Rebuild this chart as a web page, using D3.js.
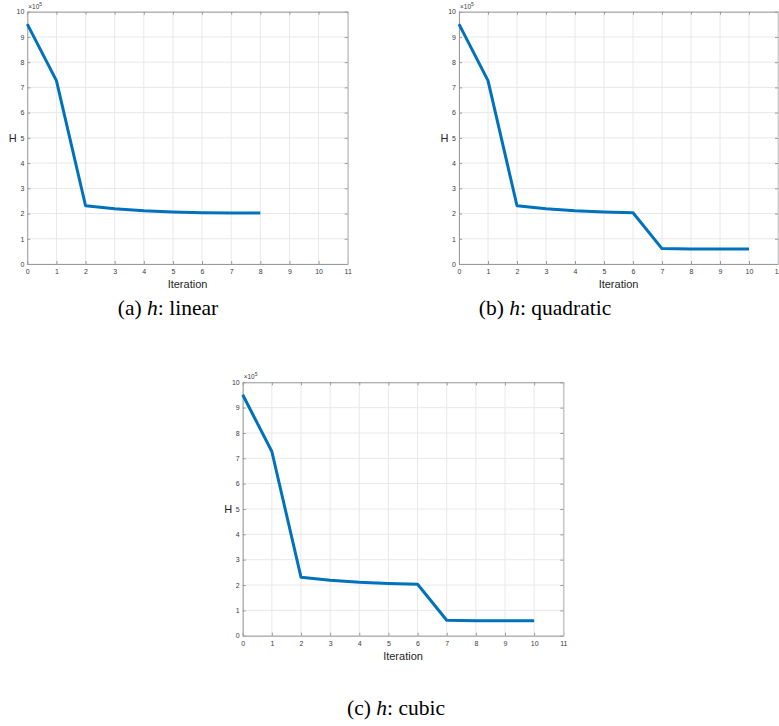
<!DOCTYPE html>
<html>
<head>
<meta charset="utf-8">
<script src="https://cdn.jsdelivr.net/npm/d3@7"></script>
<style>
  html, body { margin: 0; padding: 0; background: #fff; }
  svg { display: block; }
</style>
</head>
<body>
<svg id="chart" width="779" height="726"></svg>
<script>
// ---- data (values in units of 1e5) ----
const iterLinear = [0, 1, 2, 3, 4, 5, 6, 7, 8];
const hLinear = [9.51, 7.27, 2.31, 2.19, 2.11, 2.06, 2.03, 2.02, 2.02];
const iterQuadratic = [0, 1, 2, 3, 4, 5, 6, 7, 8, 9, 10];
const hQuadratic = [9.51, 7.27, 2.31, 2.19, 2.11, 2.06, 2.03, 0.61, 0.59, 0.59, 0.59];
const iterCubic = [0, 1, 2, 3, 4, 5, 6, 7, 8, 9, 10];
const hCubic = [9.51, 7.27, 2.31, 2.19, 2.11, 2.06, 2.03, 0.61, 0.59, 0.59, 0.59];
const xTickLabels = [0, 1, 2, 3, 4, 5, 6, 7, 8, 9, 10, 11];
const yTickLabels = [0, 1, 2, 3, 4, 5, 6, 7, 8, 9, 10];
const captionLabels = ["(a)", "(b)", "(c)"];
const captionNames = ["linear", "quadratic", "cubic"];

const panels = [
  { x: iterLinear, y: hLinear, left: 27.3, right: 347.7, top: 11.7, bottom: 264, capX: 168, capY: 315 },
  { x: iterQuadratic, y: hQuadratic, left: 459, right: 778, top: 11.7, bottom: 264, capX: 545, capY: 315 },
  { x: iterCubic, y: hCubic, left: 242.7, right: 563.3, top: 382.3, bottom: 635.7, capX: 396, capY: 715 }
];

const svg = d3.select("#chart");
const sans = "Liberation Sans, Arial, Helvetica, sans-serif";
const axisColor = "#9a9a9a";
const tickTextColor = "#3a3a3a";

panels.forEach((p, i) => {
  const xs = d3.scaleLinear().domain([0, 11]).range([p.left, p.right]);
  const ys = d3.scaleLinear().domain([0, 10]).range([p.bottom, p.top]);
  const g = svg.append("g");

  // grid
  g.append("g").selectAll("line.vg").data(xTickLabels).join("line")
    .attr("x1", d => xs(d)).attr("x2", d => xs(d))
    .attr("y1", p.top).attr("y2", p.bottom)
    .attr("stroke", "#e8e8e8").attr("stroke-width", 1);
  g.append("g").selectAll("line.hg").data(yTickLabels).join("line")
    .attr("x1", p.left).attr("x2", p.right)
    .attr("y1", d => ys(d)).attr("y2", d => ys(d))
    .attr("stroke", "#e8e8e8").attr("stroke-width", 1);

  // axes (ticks inward)
  const fmt = d3.format("d");
  const bottomAx = g.append("g").attr("transform", `translate(0,${p.bottom})`)
    .call(d3.axisBottom(xs).tickValues(xTickLabels).tickFormat(fmt).tickSizeInner(-3).tickSizeOuter(0).tickPadding(5));
  const leftAx = g.append("g").attr("transform", `translate(${p.left},0)`)
    .call(d3.axisLeft(ys).tickValues(yTickLabels).tickFormat(fmt).tickSizeInner(-3).tickSizeOuter(0).tickPadding(3));
  const topAx = g.append("g").attr("transform", `translate(0,${p.top})`)
    .call(d3.axisTop(xs).tickValues(xTickLabels).tickFormat("").tickSizeInner(-3).tickSizeOuter(0));
  const rightAx = g.append("g").attr("transform", `translate(${p.right},0)`)
    .call(d3.axisRight(ys).tickValues(yTickLabels).tickFormat("").tickSizeInner(-3).tickSizeOuter(0));
  [bottomAx, leftAx, topAx, rightAx].forEach(ax => {
    ax.selectAll("path.domain").attr("stroke", axisColor).attr("stroke-width", 1);
    ax.selectAll(".tick line").attr("stroke", axisColor);
    ax.selectAll("text").attr("fill", tickTextColor).style("font-family", sans).style("font-size", "7px");
  });
  rightAx.select("path.domain").attr("stroke", "#c8c8c8").attr("stroke-width", 1.5);

  // exponent label
  const ex = g.append("text").attr("x", p.left + 1).attr("y", p.top - 3)
    .attr("fill", tickTextColor).style("font-family", sans).style("font-size", "6.5px");
  ex.append("tspan").text("\u00d710");
  ex.append("tspan").attr("dy", -3).style("font-size", "5px").text("5");

  // axis labels
  g.append("text").attr("x", (p.left + p.right) / 2).attr("y", p.bottom + 24)
    .attr("text-anchor", "middle").attr("fill", "#262626")
    .style("font-family", sans).style("font-size", "11px").text("Iteration");
  g.append("text").attr("x", p.left - 14.5).attr("y", ys(5) + 4)
    .attr("text-anchor", "middle").attr("fill", "#262626")
    .style("font-family", sans).style("font-size", "11px").text("H");

  // line
  const pts = p.x.map((v, k) => [v, p.y[k]]);
  g.append("path").datum(pts)
    .attr("fill", "none").attr("stroke", "#0072BD").attr("stroke-width", 3)
    .attr("stroke-linejoin", "round")
    .attr("d", d3.line().x(d => xs(d[0])).y(d => ys(d[1])));

  // caption
  const cap = svg.append("text").attr("x", p.capX).attr("y", p.capY)
    .attr("text-anchor", "middle").attr("fill", "#000")
    .style("font-family", "Liberation Serif, Times New Roman, serif").style("font-size", "21.5px");
  cap.append("tspan").text(captionLabels[i] + " ");
  cap.append("tspan").style("font-style", "italic").text("h");
  cap.append("tspan").text(": " + captionNames[i]);
});
</script>
</body>
</html>
